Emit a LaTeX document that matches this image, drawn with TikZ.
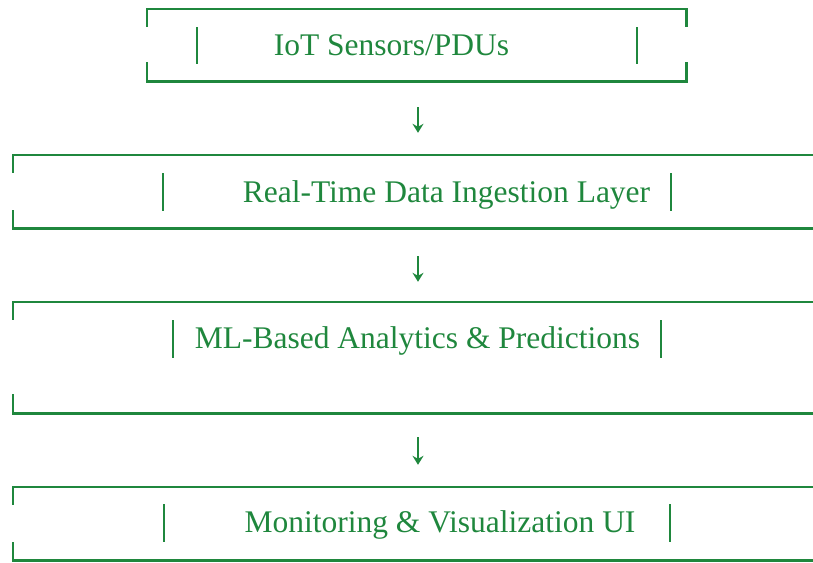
\documentclass[tikz,border=0pt]{standalone}
\usepackage{fontspec}
\setmainfont{Liberation Serif}
\usetikzlibrary{arrows.meta}
\definecolor{leafgreen}{RGB}{31,135,61}
\begin{document}
\begin{tikzpicture}[x=1pt,y=-1pt]
\tikzset{frame/.style={draw=none,rectangle,inner sep=0pt},
edge/.style={leafgreen,line width=2.6pt},
bar/.style={leafgreen,line width=2.2pt},
lbl/.style={text=leafgreen,font=\fontsize{31.5}{36}\selectfont,inner sep=0pt,anchor=base},
flow/.style={leafgreen,line width=1.4pt,-{Stealth[length=9pt,width=11pt,inset=3pt]}}}
\useasboundingbox (0,0) rectangle (813,562);

% boxes
\node (box1) [frame,minimum width=539pt,minimum height=72pt] at (416.5,45) {};
\node (box2) [frame,minimum width=810pt,minimum height=73pt] at (418,191.5) {};
\node (box3) [frame,minimum width=810pt,minimum height=111pt] at (418,357.5) {};
\node (box4) [frame,minimum width=810pt,minimum height=73pt] at (418,523.5) {};

\draw [edge] ([yshift=-18pt]box1.north west) -- (box1.north west) -- (box1.north east) -- ([yshift=-18pt]box1.north east);
\draw [edge] ([yshift=19pt]box1.south west) -- (box1.south west) -- (box1.south east) -- ([yshift=19pt]box1.south east);
\draw [edge] ([yshift=-18pt]box2.north west) -- (box2.north west) -- (box2.north east);
\draw [edge] ([yshift=18pt]box2.south west) -- (box2.south west) -- (box2.south east);
\draw [edge] ([yshift=-18pt]box3.north west) -- (box3.north west) -- (box3.north east);
\draw [edge] ([yshift=19pt]box3.south west) -- (box3.south west) -- (box3.south east);
\draw [edge] ([yshift=-18pt]box4.north west) -- (box4.north west) -- (box4.north east);
\draw [edge] ([yshift=18pt]box4.south west) -- (box4.south west) -- (box4.south east);

% texts
\node (t1) [lbl] at (391.5,55) {IoT Sensors/PDUs};
\node (t2) [lbl] at (446.5,202) {Real-Time Data Ingestion Layer};
\node (t3) [lbl] at (417.5,348) {ML-Based Analytics \& Predictions};
\node (t4) [lbl] at (440,532) {Monitoring \& Visualization UI};

% inner bars
\draw [bar] (197,27) -- (197,64);
\draw [bar] (637,27) -- (637,64);
\draw [bar] (163,173) -- (163,211);
\draw [bar] (671,173) -- (671,211);
\draw [bar] (173,320) -- (173,358);
\draw [bar] (661,320) -- (661,358);
\draw [bar] (164,504) -- (164,542);
\draw [bar] (670,504) -- (670,542);

% arrows
\draw [flow,shorten <=26pt,shorten >=22pt] (box1.south -| box2.north) -- (box2.north);
\draw [flow,shorten <=28pt,shorten >=20pt] (box2.south) -- (box3.north);
\draw [flow,shorten <=24pt,shorten >=22pt] (box3.south) -- (box4.north);
\end{tikzpicture}
\end{document}
